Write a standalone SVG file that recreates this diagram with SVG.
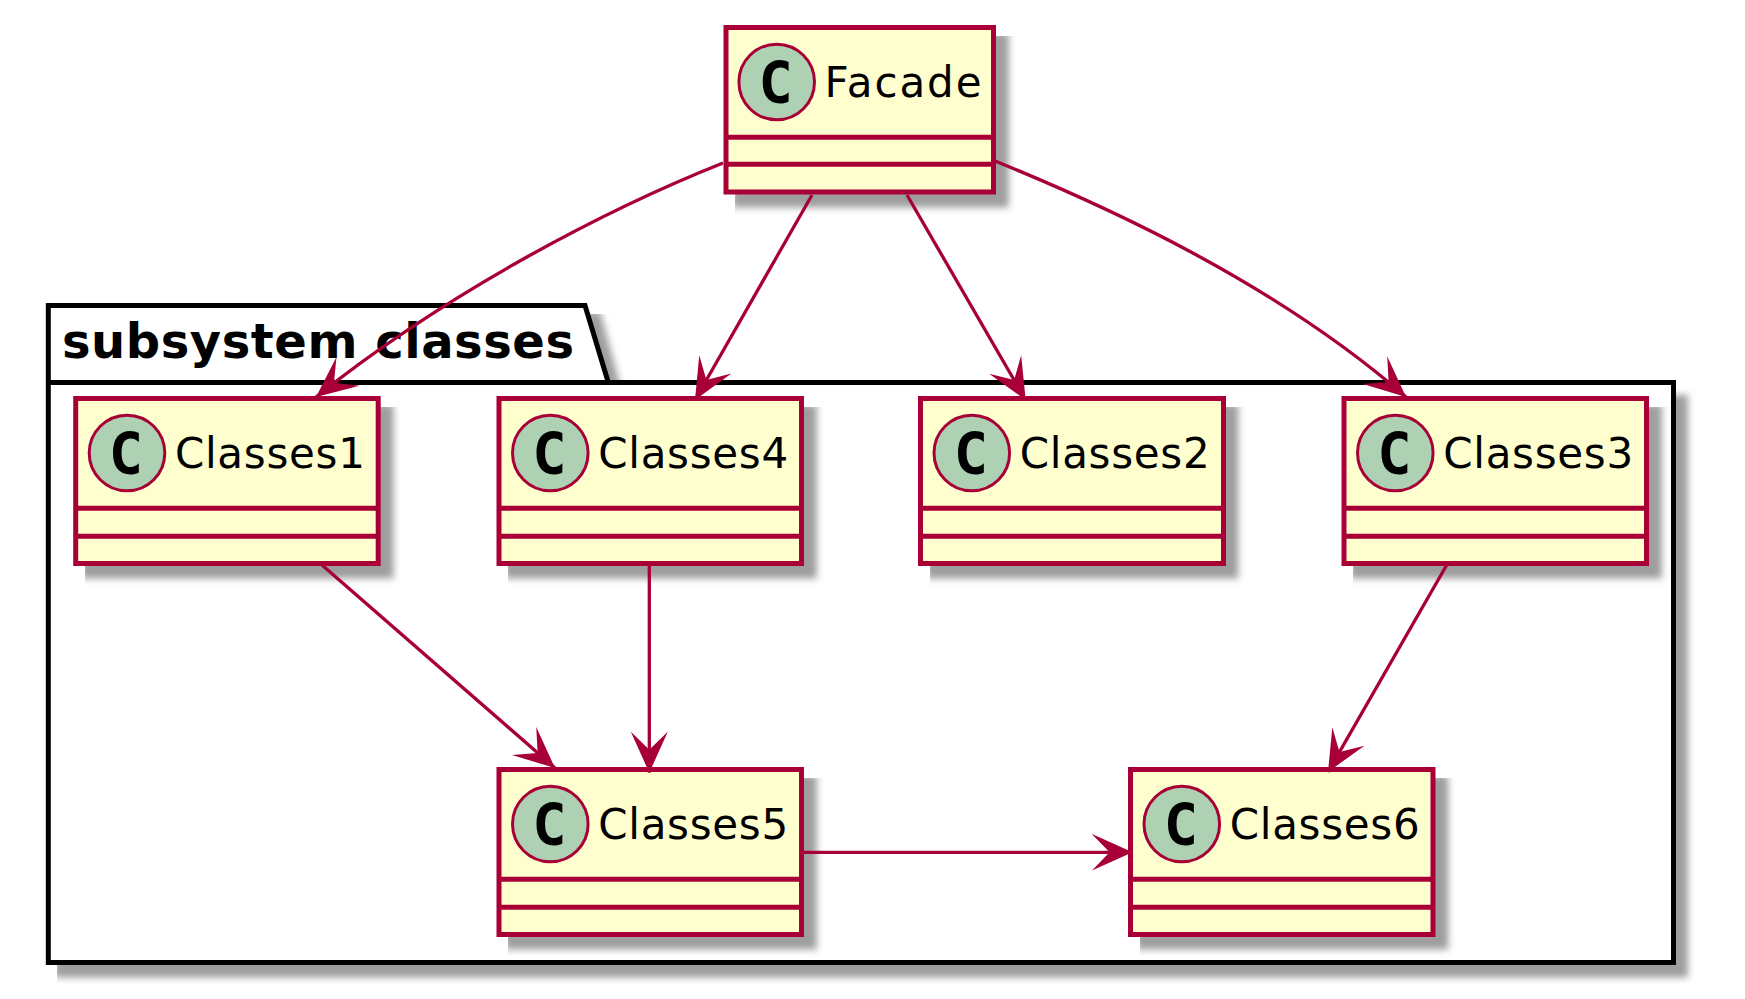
<svg xmlns="http://www.w3.org/2000/svg" width="1745" height="999" viewBox="0 0 1745 999">
<style>
.box{fill:#FEFECE;stroke:#A80036;stroke-width:5}
.div{stroke:#A80036;stroke-width:5;fill:none}
.spot{fill:#ADD1B2;stroke:#A80036;stroke-width:3}
.glyph{font-family:"DejaVu Sans Mono",monospace;font-weight:700;font-size:57px;fill:#000;text-anchor:middle}
.name{font-family:"DejaVu Sans",sans-serif;font-size:42px;fill:#000}
.pkg{fill:#fff;stroke:#000;stroke-width:5}
.pline{stroke:#000;stroke-width:5;fill:none}
.ptitle{font-family:"DejaVu Sans",sans-serif;font-weight:700;font-size:48px;fill:#000}
.sh{fill:#9e9e9e;filter:url(#blur)}
.shp{fill:#9e9e9e;filter:url(#blurp)}
.conn{fill:none;stroke:#A80036;stroke-width:3.3;marker-end:url(#arrow)}
</style>
<defs>
<filter id="blur" x="0.012" y="0.02" width="1.1" height="1.2"><feGaussianBlur stdDeviation="3.5"/></filter>
<filter id="blurp" x="0.002" y="0.005" width="1.05" height="1.05"><feGaussianBlur stdDeviation="3.5"/></filter>
<marker id="arrow" markerUnits="userSpaceOnUse" markerWidth="44" markerHeight="40" refX="41" refY="20" orient="auto"><polygon points="41,20 0,1.5 18,20 0,38.5" fill="#A80036"/></marker>
</defs>
<rect width="1745" height="999" fill="#fff"/>
<g id="package-subsystem-classes">
<polygon class="shp" points="54,311 600,311 623,395 1688,395 1688,977.5 54,977.5"/>
<polygon class="pkg" points="48.3,305.5 585,305.5 608.3,382.4 1673.5,382.4 1673.5,962.5 48.3,962.5"/>
<line class="pline" x1="48.3" y1="382.4" x2="608.3" y2="382.4"/>
<text class="ptitle" x="62" y="358" textLength="512">subsystem classes</text>
</g>
<g id="Facade">
<rect class="sh" x="731.7" y="33" width="277" height="174.5"/>
<rect class="box" x="726" y="27.5" width="267.5" height="164.5"/>
<path class="div" d="M726 137.3H993.5M726 164.3H993.5"/>
<circle class="spot" cx="776.7" cy="82" r="37.8"/>
<text class="glyph" x="775.7" y="103.3">C</text>
<text class="name" x="824.5" y="96.7" textLength="157">Facade</text>
</g>
<g id="Classes1">
<rect class="sh" x="81.5" y="404" width="312" height="174.5"/>
<rect class="box" x="75.7" y="398.5" width="302.5" height="165"/>
<path class="div" d="M75.7 508.3H378.2M75.7 536.3H378.2"/>
<circle class="spot" cx="127" cy="453" r="37.8"/>
<text class="glyph" x="126" y="474.3">C</text>
<text class="name" x="174.9" y="468.3" textLength="190">Classes1</text>
</g>
<g id="Classes4">
<rect class="sh" x="504.8" y="404" width="312" height="174.5"/>
<rect class="box" x="499" y="398.5" width="302.5" height="165"/>
<path class="div" d="M499 508.3H801.5M499 536.3H801.5"/>
<circle class="spot" cx="550.3" cy="453" r="37.8"/>
<text class="glyph" x="549.3" y="474.3">C</text>
<text class="name" x="598.2" y="468.3" textLength="190">Classes4</text>
</g>
<g id="Classes2">
<rect class="sh" x="926.3" y="404" width="312" height="174.5"/>
<rect class="box" x="920.5" y="398.5" width="303" height="165"/>
<path class="div" d="M920.5 508.3H1223.5M920.5 536.3H1223.5"/>
<circle class="spot" cx="971.8" cy="453" r="37.8"/>
<text class="glyph" x="970.8" y="474.3">C</text>
<text class="name" x="1019.7" y="468.3" textLength="190">Classes2</text>
</g>
<g id="Classes3">
<rect class="sh" x="1349.8" y="404" width="312" height="174.5"/>
<rect class="box" x="1344" y="398.5" width="302.5" height="165"/>
<path class="div" d="M1344 508.3H1646.5M1344 536.3H1646.5"/>
<circle class="spot" cx="1395.3" cy="453" r="37.8"/>
<text class="glyph" x="1394.3" y="474.3">C</text>
<text class="name" x="1443.2" y="468.3" textLength="190">Classes3</text>
</g>
<g id="Classes5">
<rect class="sh" x="504.8" y="775" width="312" height="174.5"/>
<rect class="box" x="499" y="769.5" width="302.5" height="165"/>
<path class="div" d="M499 879.3H801.5M499 907.3H801.5"/>
<circle class="spot" cx="550.3" cy="824" r="37.8"/>
<text class="glyph" x="549.3" y="845.3">C</text>
<text class="name" x="598.2" y="839" textLength="190">Classes5</text>
</g>
<g id="Classes6">
<rect class="sh" x="1136.3" y="775" width="312" height="174.5"/>
<rect class="box" x="1130.5" y="769.5" width="302.5" height="165"/>
<path class="div" d="M1130.5 879.3H1433M1130.5 907.3H1433"/>
<circle class="spot" cx="1181.8" cy="824" r="37.8"/>
<text class="glyph" x="1180.8" y="845.3">C</text>
<text class="name" x="1229.7" y="839" textLength="190">Classes6</text>
</g>
<g id="connectors">
<path class="conn" d="M723,163 C610,208 450,290 316,397"/>
<path class="conn" d="M812,195 L695,400"/>
<path class="conn" d="M907,195 L1025.7,400"/>
<path class="conn" d="M995,161 C1108,207 1275,283 1406,397"/>
<path class="conn" d="M322,565 L555,768"/>
<path class="conn" d="M649.3,566 L649.3,772.7"/>
<path class="conn" d="M1446.7,565 L1328,772"/>
<path class="conn" d="M803,852.3 L1132.6,852.3"/>
</g>
</svg>
